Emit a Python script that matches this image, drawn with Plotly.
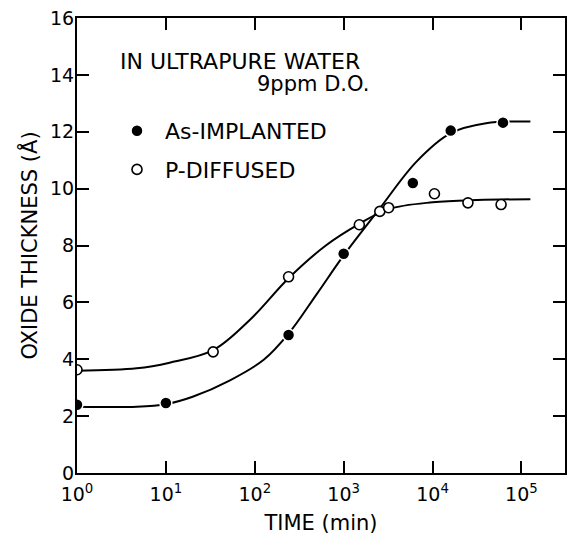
import plotly.graph_objects as go

# ---- data ----
as_time = [1, 10, 240, 1000, 6000, 16000, 62000]
as_thick = [2.40, 2.46, 4.85, 7.71, 10.2, 12.04, 12.32]

p_time = [1, 34, 240, 1500, 2550, 3200, 10500, 25000, 59000]
p_thick = [3.63, 4.26, 6.90, 8.73, 9.20, 9.33, 9.82, 9.50, 9.44]

# hand-drawn fit curves (knots)
as_fit_time = [1, 4.7, 10, 20, 52, 126, 240, 500, 1000, 2500, 6600, 16000, 40000, 126000]
as_fit_thick = [2.33, 2.33, 2.42, 2.68, 3.25, 3.98, 4.90, 6.30, 7.65, 9.27, 10.95, 11.95, 12.30, 12.36]

p_fit_time = [1, 4.7, 11, 34, 89, 240, 630, 1500, 3200, 10000, 32000, 126000]
p_fit_thick = [3.60, 3.68, 3.88, 4.32, 5.40, 6.85, 8.00, 8.76, 9.28, 9.52, 9.60, 9.63]

x_tickvals = [1, 10, 100, 1000, 10000, 100000]
x_ticktext = ["10<sup>0</sup>", "10<sup>1</sup>", "10<sup>2</sup>", "10<sup>3</sup>",
              "10<sup>4</sup>", "10<sup>5</sup>"]
y_tickvals = [0, 2, 4, 6, 8, 10, 12, 14, 16]

FONT = "DejaVu Sans"

fig = go.Figure()

fig.add_trace(go.Scatter(x=as_fit_time, y=as_fit_thick, mode="lines",
                         line=dict(color="black", width=2, shape="spline", smoothing=1.0),
                         showlegend=False, hoverinfo="skip"))
fig.add_trace(go.Scatter(x=p_fit_time, y=p_fit_thick, mode="lines",
                         line=dict(color="black", width=2, shape="spline", smoothing=1.0),
                         showlegend=False, hoverinfo="skip"))

fig.add_trace(go.Scatter(x=as_time, y=as_thick, mode="markers", name="As-IMPLANTED",
                         legendgroup="a",
                         marker=dict(symbol="circle", size=12, color="black",
                                     line=dict(color="white", width=1.5))))
fig.add_trace(go.Scatter(x=p_time, y=p_thick, mode="markers", name="P-DIFFUSED",
                         legendgroup="b",
                         marker=dict(symbol="circle", size=10, color="white",
                                     line=dict(color="black", width=1.6))))

fig.add_annotation(text="IN ULTRAPURE WATER", xref="paper", yref="paper",
                   x=(240 - 77) / 488, y=(473 - 62) / 455, xanchor="center", yanchor="middle",
                   showarrow=False, font=dict(family=FONT, size=22, color="black"))
fig.add_annotation(text="9ppm D.O.", xref="paper", yref="paper",
                   x=(371 - 77) / 488, y=(473 - 84) / 455, xanchor="right", yanchor="middle",
                   showarrow=False, font=dict(family=FONT, size=21, color="black"))

axis_common = dict(showline=True, linewidth=2, linecolor="black", mirror="ticks",
                   ticks="inside", ticklen=12, tickwidth=2, tickcolor="black",
                   showgrid=False, zeroline=False, automargin=False,
                   tickfont=dict(family=FONT, size=19, color="black"))

fig.update_xaxes(type="log", range=[0, 5.49], tickmode="array",
                 tickvals=x_tickvals, ticktext=x_ticktext, ticklabelstandoff=3,
                 title=dict(text="TIME (min)", font=dict(family=FONT, size=21, color="black"),
                            standoff=13),
                 **axis_common)
fig.update_yaxes(range=[0, 16], tickmode="array", tickvals=y_tickvals,
                 ticklabelstandoff=-3,
                 title=dict(text="OXIDE THICKNESS (Å)", font=dict(family=FONT, size=21, color="black"),
                            standoff=7),
                 **axis_common)

fig.update_layout(
    width=571, height=535,
    margin=dict(l=77, r=6, t=18, b=62, autoexpand=False),
    paper_bgcolor="white", plot_bgcolor="white",
    font=dict(family=FONT, color="black"),
    showlegend=True,
    legend=dict(x=(109 - 77) / 488, y=(473 - 110) / 455, xanchor="left", yanchor="top",
                bgcolor="rgba(0,0,0,0)", borderwidth=0,
                font=dict(family=FONT, size=22, color="black"),
                itemwidth=46, traceorder="grouped", tracegroupgap=7),
)

fig.write_html("out.html", config={"displayModeBar": False},
               post_script="document.body.style.margin='0px';")
